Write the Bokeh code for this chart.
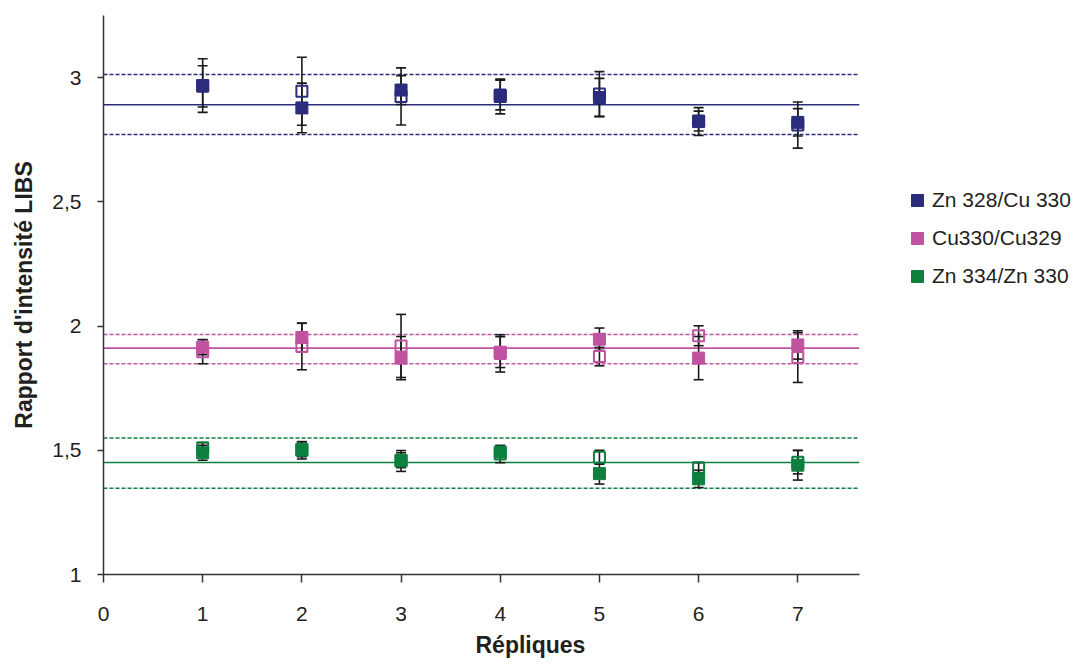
from bokeh.plotting import figure
from bokeh.models import (ColumnDataSource, Range1d, FixedTicker, Whisker,
                          TeeHead, Legend, LegendItem, Title)
from bokeh.embed import file_html
from bokeh.resources import INLINE

# ---------------- data ----------------
replicates = [1, 2, 3, 4, 5, 6, 7]
series_names = ["Zn 328/Cu 330", "Cu330/Cu329", "Zn 334/Zn 330"]
colors = ["#2b2d7c", "#c052a0", "#0d7f3f"]

# filled squares (first measurement set) and their errors
zn328_filled = [2.968, 2.878, 2.950, 2.924, 2.920, 2.823, 2.820]
zn328_filled_err = [0.108, 0.100, 0.058, 0.070, 0.077, 0.056, 0.055]
cu330_filled = [1.915, 1.954, 1.871, 1.895, 1.947, 1.871, 1.924]
cu330_filled_err = [0.030, 0.057, 0.087, 0.062, 0.045, 0.087, 0.057]
zn334_filled = [1.490, 1.504, 1.457, 1.493, 1.406, 1.385, 1.440]
zn334_filled_err = [0.030, 0.030, 0.042, 0.020, 0.042, 0.035, 0.060]

# open squares (second measurement set) and their errors
zn328_open = [2.965, 2.945, 2.924, 2.930, 2.934, 2.825, 2.809]
zn328_open_err = [0.083, 0.137, 0.115, 0.060, 0.090, 0.040, 0.093]
cu330_open = [1.897, 1.918, 1.920, 1.890, 1.877, 1.961, 1.873]
cu330_open_err = [0.049, 0.094, 0.127, 0.075, 0.037, 0.040, 0.100]
zn334_open = [1.510, 1.500, 1.460, 1.485, 1.472, 1.430, 1.452]
zn334_open_err = [0.020, 0.035, 0.030, 0.035, 0.028, 0.020, 0.047]

# mean and limits (horizontal lines)
means = [2.891, 1.911, 1.451]
upper_limits = [3.013, 1.966, 1.549]
lower_limits = [2.771, 1.848, 1.347]

x_ticks = [0, 1, 2, 3, 4, 5, 6, 7]
x_tick_labels = ["0", "1", "2", "3", "4", "5", "6", "7"]
y_ticks = [1, 1.5, 2, 2.5, 3]
y_tick_labels = ["1", "1,5", "2", "2,5", "3"]
x_title = "Répliques"
y_title = "Rapport d'intensité LIBS"

filled = [zn328_filled, cu330_filled, zn334_filled]
filled_err = [zn328_filled_err, cu330_filled_err, zn334_filled_err]
opened = [zn328_open, cu330_open, zn334_open]
opened_err = [zn328_open_err, cu330_open_err, zn334_open_err]

# layout constants
AXIS_END = 7.62      # where the x axis line (and reference lines) stop
X_VIEW_END = 9.82    # frame extends further right to hold the legend

FONT = "Liberation Sans"
TXT = "#231f20"

p = figure(width=1077, height=670, output_backend="svg", toolbar_location=None,
           x_range=Range1d(0, X_VIEW_END), y_range=Range1d(1, 3.25),
           min_border_left=103, min_border_right=0, min_border_top=15,
           min_border_bottom=96)
p.outline_line_color = None
p.xgrid.visible = False
p.ygrid.visible = False
p.background_fill_color = "white"

# axes
for ax in (p.xaxis[0], p.yaxis[0]):
    ax.axis_line_color = "#333333"
    ax.axis_line_width = 1.5
    ax.major_tick_line_color = "#333333"
    ax.major_tick_line_width = 1.5
    ax.major_tick_in = 0
    ax.minor_tick_line_color = None
    ax.major_label_text_font = FONT
    ax.major_label_text_font_size = "21px"
    ax.major_label_text_color = TXT
    ax.axis_label_text_font = FONT
    ax.axis_label_text_font_size = "23px"
    ax.axis_label_text_font_style = "bold"
    ax.axis_label_text_color = TXT

p.xaxis.ticker = FixedTicker(ticks=x_ticks)
p.xaxis.major_label_overrides = dict(zip(x_ticks, x_tick_labels))
p.xaxis.bounds = (0, AXIS_END)
p.xaxis.major_tick_out = 8
p.xaxis.major_label_standoff = 24

p.yaxis.ticker = FixedTicker(ticks=y_ticks)
p.yaxis.major_label_overrides = dict(zip(y_ticks, y_tick_labels))
p.yaxis.major_tick_out = 6
p.yaxis.major_label_standoff = 16
p.yaxis.axis_label = y_title
p.yaxis.axis_label_standoff = 12

# x title placed under the visible part of the axis
p.add_layout(Title(text=x_title, align="left", offset=372, standoff=16,
                   vertical_align="top",
                   text_font=FONT, text_font_size="23px", text_font_style="bold",
                   text_color=TXT), "below")

# horizontal mean / limit lines
for i in range(3):
    p.segment(x0=[0], x1=[AXIS_END], y0=[means[i]], y1=[means[i]],
              line_color=colors[i], line_width=1.6, level="underlay")
    lims = [upper_limits[i], lower_limits[i]]
    p.segment(x0=[0, 0], x1=[AXIS_END, AXIS_END], y0=lims, y1=lims,
              line_color=colors[i], line_width=1.5, line_dash="4 2", level="underlay")

for i in range(3):
    for vals, errs in ((filled[i], filled_err[i]), (opened[i], opened_err[i])):
        src = ColumnDataSource(dict(
            x=replicates,
            upper=[v + e for v, e in zip(vals, errs)],
            lower=[v - e for v, e in zip(vals, errs)]))
        p.add_layout(Whisker(source=src, base="x", upper="upper", lower="lower",
                             line_color="#1a1a1a", line_width=1.6, level="underlay",
                             upper_head=TeeHead(size=10, line_color="#1a1a1a", line_width=1.6),
                             lower_head=TeeHead(size=10, line_color="#1a1a1a", line_width=1.6)))

legend_items = []
for i in range(3):
    p.scatter(replicates, opened[i], marker="square", size=11, fill_alpha=0,
              line_color=colors[i], line_width=2)
    r = p.scatter(replicates, filled[i], marker="square", size=12,
                  fill_color=colors[i], line_color=colors[i], line_width=1)
    legend_items.append(LegendItem(label=series_names[i], renderers=[r]))

legend = Legend(items=legend_items, location=(799, 283), glyph_width=30,
                glyph_height=30, label_standoff=0, spacing=8, padding=0, margin=0,
                border_line_alpha=0, background_fill_alpha=0,
                label_text_font=FONT, label_text_font_size="21px",
                label_text_color=TXT)
p.add_layout(legend)

open("out.html", "w").write(file_html(p, INLINE))
